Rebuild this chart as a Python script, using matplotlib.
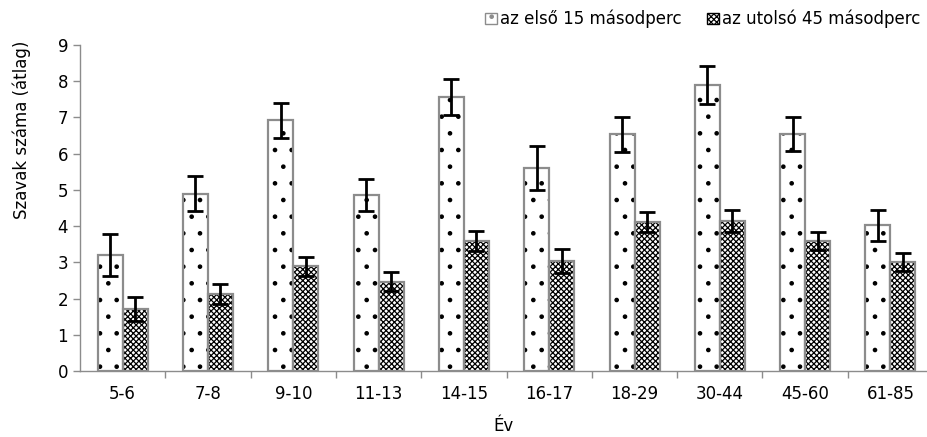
import numpy as np
import matplotlib.pyplot as plt
from matplotlib.patches import Patch

plt.rcParams['font.family'] = 'DejaVu Sans'
plt.rcParams['hatch.linewidth'] = 0.9

kor = ["5-6", "7-8", "9-10", "11-13", "14-15", "16-17", "18-29", "30-44", "45-60", "61-85"]
elso = [3.2, 4.9, 6.92, 4.86, 7.57, 5.6, 6.53, 7.9, 6.53, 4.02]
elso_hiba = [0.58, 0.47, 0.48, 0.45, 0.49, 0.6, 0.48, 0.53, 0.47, 0.42]
utolso = [1.71, 2.13, 2.89, 2.47, 3.59, 3.04, 4.12, 4.14, 3.6, 3.0]
utolso_hiba = [0.32, 0.27, 0.27, 0.25, 0.27, 0.33, 0.27, 0.3, 0.25, 0.25]

nev1 = "az első 15 másodperc"
nev2 = "az utolsó 45 másodperc"

fig = plt.figure(figsize=(9.28, 4.37), dpi=100)
ax = fig.add_axes([80/928, 66/437, 1 - 80/928, (371-45)/437])

x = np.arange(len(kor))
w = 0.293
szurke = "#8c8c8c"
minta1 = "."
minta2 = "xxxxxx"

# mintazat (hatch) feketevel, keret kulon szurkevel
ax.bar(x - w/2, elso, w, color="white", edgecolor="black", linewidth=0, hatch=minta1)
ax.bar(x + w/2, utolso, w, color="white", edgecolor="black", linewidth=0, hatch=minta2)
ax.bar(x - w/2, elso, w, fill=False, edgecolor=szurke, linewidth=1.6)
ax.bar(x + w/2, utolso, w, fill=False, edgecolor=szurke, linewidth=1.6)

ax.errorbar(x - w/2, elso, yerr=elso_hiba, fmt="none", ecolor="black", elinewidth=2, capsize=6, capthick=2)
ax.errorbar(x + w/2, utolso, yerr=utolso_hiba, fmt="none", ecolor="black", elinewidth=2, capsize=6, capthick=2)

ax.set_xlim(-0.5, 9.44)
ax.set_ylim(0, 9)
ax.set_yticks(range(10))
ax.set_xticks(x)
ax.set_xticklabels(kor)
ax.set_xticks(np.arange(0.5, 9.5, 1), minor=True)
ax.tick_params(axis="x", which="major", length=0, pad=10, labelsize=12)
ax.tick_params(axis="x", which="minor", length=5, color=szurke, width=1)
ax.tick_params(axis="y", length=5, color=szurke, width=1, labelsize=12)

for s in ["top", "right"]:
    ax.spines[s].set_visible(False)
for s in ["left", "bottom"]:
    ax.spines[s].set_color(szurke)
    ax.spines[s].set_linewidth(1)

ax.set_ylabel("Szavak száma (átlag)", fontsize=12)
ax.yaxis.set_label_coords(-0.058, 0.74)
ax.set_xlabel("Év", fontsize=12, labelpad=10)

h1 = Patch(facecolor="white", edgecolor=szurke, hatch=minta1, label=nev1)
h2 = Patch(facecolor="white", edgecolor="black", hatch=minta2, label=nev2)
fig.legend(handles=[h1, h2], loc="upper right", bbox_to_anchor=(1.008, 1.012), ncol=2,
           frameon=False, fontsize=12, handlelength=0.7, handleheight=0.7,
           handletextpad=0.2, columnspacing=1.5)

fig.savefig("out.png", dpi=100)
